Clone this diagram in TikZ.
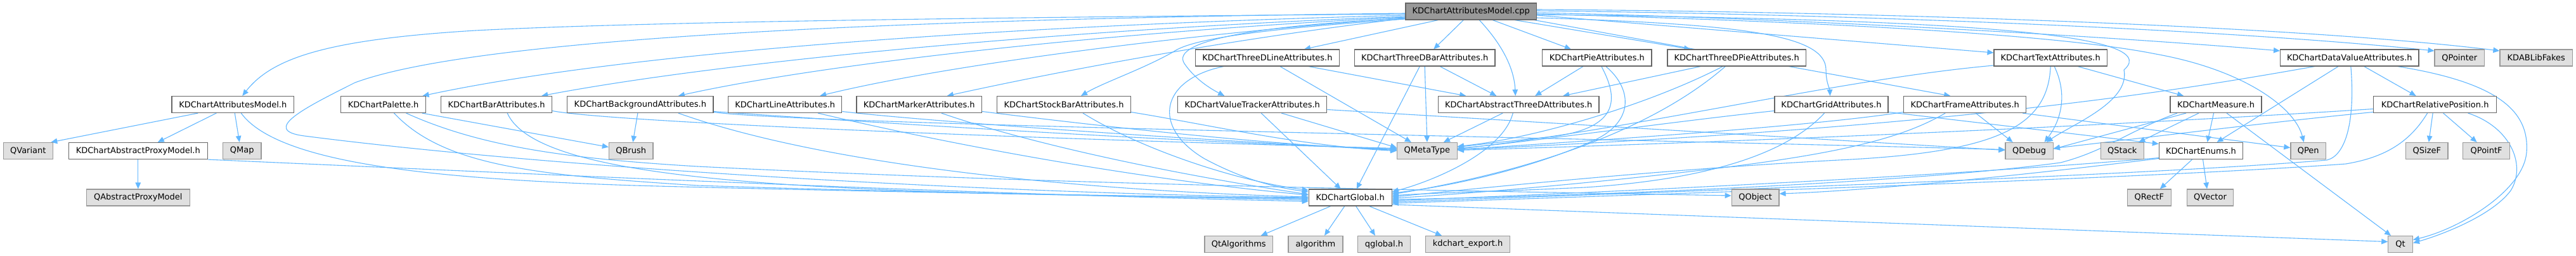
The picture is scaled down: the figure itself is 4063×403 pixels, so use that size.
\documentclass[tikz,border=0pt]{standalone}
\usepackage{fontspec}
\setmainfont{DejaVu Sans}
\usetikzlibrary{arrows.meta,backgrounds}
\definecolor{edgec}{HTML}{63B8FF}
\definecolor{nodeborder}{HTML}{666666}
\definecolor{grayfill}{HTML}{E0E0E0}
\definecolor{grayborder}{HTML}{999999}
\definecolor{rootfill}{HTML}{999999}
\begin{document}
\begin{tikzpicture}[x=1pt,y=-1pt,
  nb/.style={draw=nodeborder, fill=white, line width=1.2pt, minimum height=26pt, inner sep=0pt, font=\fontsize{13}{15}\selectfont},
  gb/.style={nb, draw=grayborder, fill=grayfill},
  rb/.style={nb, draw=nodeborder, fill=rootfill},
  e/.style={draw=edgec, line width=1.1pt, -{Triangle[length=10pt,width=8.5pt]}}]
\useasboundingbox (0,0) rectangle (4063,403);
% nodes
\node[rb, minimum width=206.5pt] (root) at (2320.25,18) {KDChartAttributesModel.cpp};
\node[nb, minimum width=192.6pt] (amh) at (367.3,164.5) {KDChartAttributesModel.h};
\node[nb, minimum width=134pt] (pal) at (604.6,164.5) {KDChartPalette.h};
\node[nb, minimum width=174.7pt] (bar) at (783.2,164.5) {KDChartBarAttributes.h};
\node[nb, minimum width=230.1pt] (bg) at (1009.9,164.5) {KDChartBackgroundAttributes.h};
\node[nb, minimum width=179.1pt] (line) at (1238.2,164.5) {KDChartLineAttributes.h};
\node[nb, minimum width=197.5pt] (marker) at (1449.8,164.5) {KDChartMarkerAttributes.h};
\node[nb, minimum width=210.7pt] (stock) at (1678,164.5) {KDChartStockBarAttributes.h};
\node[nb, minimum width=234.9pt] (vt) at (1975.2,164.5) {KDChartValueTrackerAttributes.h};
\node[nb, minimum width=226.9pt] (tdl) at (1999,91) {KDChartThreeDLineAttributes.h};
\node[nb, minimum width=221.7pt] (tdb) at (2247.2,91) {KDChartThreeDBarAttributes.h};
\node[nb, minimum width=172.2pt] (pie) at (2518.9,91) {KDChartPieAttributes.h};
\node[nb, minimum width=218.5pt] (tdp) at (2739.2,91) {KDChartThreeDPieAttributes.h};
\node[nb, minimum width=178.3pt] (text) at (3234.2,91) {KDChartTextAttributes.h};
\node[nb, minimum width=218.4pt] (dva) at (3705.8,91) {KDChartDataValueAttributes.h};
\node[gb, minimum width=78.6pt] (qpointer) at (3879.3,91) {QPointer};
\node[gb, minimum width=114.6pt] (kdab) at (4000.3,91) {KDABLibFakes};
\node[nb, minimum width=253.5pt] (atd) at (2395.2,164.5) {KDChartAbstractThreeDAttributes.h};
\node[nb, minimum width=179pt] (grid) at (2888.5,164.5) {KDChartGridAttributes.h};
\node[nb, minimum width=193.2pt] (frame) at (3099.2,164.5) {KDChartFrameAttributes.h};
\node[nb, minimum width=144pt] (measure) at (3495,164.5) {KDChartMeasure.h};
\node[nb, minimum width=193.9pt] (relpos) at (3840.6,164.5) {KDChartRelativePosition.h};
\node[gb, minimum width=78.4pt] (qvariant) at (44.3,237.5) {QVariant};
\node[nb, minimum width=218.8pt] (aproxy) at (217.8,237.5) {KDChartAbstractProxyModel.h};
\node[gb, minimum width=60.6pt] (qmap) at (381.7,237.5) {QMap};
\node[gb, minimum width=69.5pt] (qbrush) at (995.2,237.5) {QBrush};
\node[gb, minimum width=94.6pt] (qmetatype) at (2250.9,237.5) {QMetaType};
\node[gb, minimum width=75.3pt] (qdebug) at (3200.6,237.5) {QDebug};
\node[gb, minimum width=68.1pt] (qstack) at (3347.3,237.5) {QStack};
\node[nb, minimum width=132.3pt] (enums) at (3471.5,237.5) {KDChartEnums.h};
\node[gb, minimum width=55.6pt] (qpen) at (3640.7,237.5) {QPen};
\node[gb, minimum width=66.4pt] (qsizef) at (3827.8,237.5) {QSizeF};
\node[gb, minimum width=73.9pt] (qpointf) at (3921.6,237.5) {QPointF};
\node[gb, minimum width=162.6pt] (qapm) at (217.8,311) {QAbstractProxyModel};
\node[nb, minimum width=130.9pt] (global) at (2129.7,311) {KDChartGlobal.h};
\node[gb, minimum width=74.7pt] (qobject) at (2768.6,311) {QObject};
\node[gb, minimum width=68.9pt] (qrectf) at (3389.8,311) {QRectF};
\node[gb, minimum width=73.4pt] (qvector) at (3486,311) {QVector};
\node[gb, minimum width=107.7pt] (qtalg) at (1953.8,384.5) {QtAlgorithms};
\node[gb, minimum width=86.1pt] (algorithm) at (2075,384.5) {algorithm};
\node[gb, minimum width=82.9pt] (qglobal) at (2183,384.5) {qglobal.h};
\node[gb, minimum width=132.7pt] (kdexport) at (2315,384.5) {kdchart\_export.h};
\node[gb, minimum width=38.6pt] (qt) at (3786.1,384.5) {Qt};

\begin{scope}[on background layer]
\fill[white] (0,0) rectangle (4063,403);
% root edges
\draw[e] ([yshift=-4pt]root.west) .. controls (1500,28) and (1000,35) .. (750,48) .. controls (520,62) and (430,90) .. ([xshift=15pt]amh.north);
\draw[e] ([yshift=-6pt]root.west) .. controls (1600,40) and (1000,80) .. ([xshift=62pt]pal.north);
\draw[e] ([yshift=-8pt]root.west) .. controls (1700,45) and (1150,95) .. ([xshift=71pt]bar.north);
\draw[e] ([yshift=-9pt]root.west) .. controls (1750,50) and (1300,100) .. ([xshift=60pt]bg.north);
\draw[e] ([yshift=-10pt]root.west) .. controls (1850,55) and (1480,105) .. ([xshift=55pt]line.north);
\draw[e] ([yshift=-11pt]root.west) .. controls (1950,60) and (1680,110) .. ([xshift=44pt]marker.north);
\draw[e] ([yshift=-12pt]root.west) .. controls (2000,45) and (1880,60) .. (1850,82) .. controls (1800,110) and (1740,130) .. ([xshift=27pt]stock.north);
\draw[e] ([yshift=-11pt]root.west) .. controls (1980,40) and (1845,65) .. (1868,100) .. controls (1885,125) and (1910,140) .. ([xshift=-44pt]vt.north);
\draw[e] ([xshift=-52pt]root.south) -- ([xshift=58pt]tdl.north);
\draw[e] ([xshift=-12pt]root.south) -- ([xshift=14pt]tdb.north);
\draw[e] ([xshift=13pt]root.south) .. controls (2360,60) and (2388,100) .. ([xshift=-5pt]atd.north);
\draw[e] ([xshift=34pt]root.south) -- ([xshift=-41pt]pie.north);
\draw[e] ([xshift=69pt]root.south) -- ([xshift=-73pt]tdp.north);
\draw[e] ([yshift=-10pt]root.east) .. controls (2750,38) and (2880,55) .. (2880,110) .. controls (2880,130) and (2886,140) .. ([xshift=-2pt]grid.north);
\draw[e] ([xshift=100pt]root.south) -- ([xshift=-23pt]frame.north);
\draw[e] ([yshift=-6pt]root.east) -- ([yshift=8pt]text.west);
\draw[e] ([yshift=-2pt]root.east) .. controls (2800,28) and (3300,55) .. ([yshift=11pt]dva.west);
\draw[e] ([yshift=1pt]root.east) .. controls (2900,22) and (3500,45) .. ([yshift=11pt]qpointer.west);
\draw[e] ([yshift=3pt]root.east) .. controls (2900,18) and (3600,38) .. ([yshift=11pt]kdab.west);
\draw[e] ([yshift=-4pt]root.east) .. controls (2900,35) and (3250,55) .. (3400,85) .. controls (3540,110) and (3620,170) .. ([xshift=-7pt]qpen.north);
\draw[e] ([yshift=-5pt]root.east) .. controls (3050,30) and (3420,50) .. (3350,110) .. controls (3360,160) and (3270,195) .. ([xshift=27pt]qdebug.north);
\draw[e] ([yshift=-3pt]root.west) .. controls (1400,30) and (750,60) .. (560,130) .. controls (480,170) and (410,205) .. (480,214) .. controls (900,268) and (1600,305) .. (global.west);
% KDChartAttributesModel.h
\draw[e] ([xshift=-55pt]amh.south) -- ([xshift=36pt]qvariant.north);
\draw[e] ([xshift=-26pt]amh.south) -- ([xshift=31pt]aproxy.north);
\draw[e] ([xshift=3pt]amh.south) -- ([xshift=-4pt]qmap.north);
\draw[e] ([xshift=13pt]amh.south) .. controls (440,260) and (700,282) .. (1000,292) .. controls (1400,303) and (1800,308) .. ([yshift=-4pt]global.west);
% KDChartAbstractProxyModel.h
\draw[e] (aproxy.south) -- (qapm.north);
\draw[e] (aproxy.south east) .. controls (800,272) and (1500,305) .. ([yshift=-6pt]global.west);
% Palette
\draw[e] ([xshift=61pt]pal.south) -- ([yshift=6pt]qbrush.west);
\draw[e] ([xshift=17pt]pal.south) .. controls (700,262) and (850,276) .. (1100,292) .. controls (1500,305) and (1800,308) .. ([yshift=-2pt]global.west);
\draw[e] ([xshift=36pt]pal.south) .. controls (760,232) and (900,250) .. (1100,262) .. controls (1700,292) and (2300,300) .. ([yshift=3pt]qobject.west);
% Bar
\draw[e] ([yshift=-10pt]bar.east) .. controls (950,190) and (1500,215) .. ([yshift=4pt]qmetatype.west);
\draw[e] ([xshift=17pt]bar.south) .. controls (850,290) and (1300,305) .. ([yshift=-1pt]global.west);
% Background
\draw[e] ([xshift=-4pt]bg.south) -- ([xshift=3pt]qbrush.north);
\draw[e] ([xshift=60pt]bg.south) .. controls (1300,260) and (1700,300) .. ([yshift=1pt]global.west);
\draw[e] ([yshift=-11pt]bg.east) .. controls (1400,195) and (1900,225) .. ([yshift=3pt]qmetatype.west);
\draw[e] ([yshift=-12pt]bg.east) .. controls (1250,195) and (2400,215) .. ([yshift=2pt]qdebug.west);
% Line
\draw[e] ([yshift=-11pt]line.east) .. controls (1450,190) and (1900,222) .. ([yshift=2pt]qmetatype.west);
\draw[e] ([xshift=52pt]line.south) .. controls (1550,240) and (1850,288) .. ([yshift=4pt]global.west);
% Marker
\draw[e] ([yshift=-11pt]marker.east) .. controls (1650,188) and (1950,225) .. ([yshift=1pt]qmetatype.west);
\draw[e] ([xshift=35pt]marker.south) .. controls (1650,235) and (1900,282) .. ([yshift=5pt]global.west);
% StockBar
\draw[e] ([yshift=-12pt]stock.east) .. controls (1900,195) and (2050,230) .. (qmetatype.west);
\draw[e] ([xshift=30pt]stock.south) .. controls (1800,235) and (1950,285) .. ([yshift=-2pt]global.north west);
% ValueTracker
\draw[e] ([xshift=14pt]vt.south) -- ([xshift=-15pt]global.north);
\draw[e] ([xshift=46pt]vt.south) -- ([yshift=5pt]qmetatype.west);
\draw[e] ([yshift=-8pt]vt.east) -- ([yshift=1pt]qdebug.west);
% ThreeDLine
\draw[e] ([xshift=-69pt]tdl.south) .. controls (1830,125) and (1815,200) .. (1900,250) .. controls (1960,282) and (2010,295) .. ([yshift=9pt]global.west);
\draw[e] ([xshift=20pt]tdl.south) -- ([xshift=-25pt]qmetatype.north);
\draw[e] ([xshift=65pt]tdl.south) -- ([xshift=-83pt]atd.north);
% ThreeDBar
\draw[e] ([xshift=-8pt]tdb.south) -- ([xshift=10pt]global.north);
\draw[e] (tdb.south) -- (qmetatype.north);
\draw[e] ([xshift=24pt]tdb.south) -- ([xshift=-35pt]atd.north);
% AbstractThreeD
\draw[e] ([xshift=-25pt]atd.south) -- ([xshift=26pt]qmetatype.north);
\draw[e] ([xshift=-9pt]atd.south) .. controls (2370,240) and (2260,285) .. ([yshift=9pt]global.east);
% Pie
\draw[e] ([xshift=-22pt]pie.south) -- ([xshift=26pt]atd.north);
\draw[e] ([xshift=7pt]pie.south) .. controls (2550,150) and (2560,200) .. (2450,215) .. controls (2380,222) and (2330,228) .. ([yshift=6pt]qmetatype.east);
\draw[e] ([xshift=14pt]pie.south) .. controls (2575,140) and (2580,195) .. (2505,225) .. controls (2420,262) and (2300,292) .. ([yshift=7pt]global.east);
% ThreeDPie
\draw[e] ([xshift=-57pt]tdp.south) -- ([xshift=70pt]atd.north);
\draw[e] ([xshift=-22pt]tdp.south) .. controls (2600,165) and (2420,218) .. ([yshift=7pt]qmetatype.east);
\draw[e] ([xshift=-18pt]tdp.south) .. controls (2600,210) and (2400,272) .. ([yshift=5pt]global.east);
% Grid
\draw[e] ([yshift=-10pt]grid.west) .. controls (2650,190) and (2400,225) .. ([yshift=4pt]qmetatype.east);
\draw[e] ([xshift=-11pt]grid.south) .. controls (2820,240) and (2700,282) .. (2500,295) .. controls (2350,302) and (2250,304) .. ([yshift=3pt]global.east);
\draw[e] ([yshift=-12pt]grid.east) -- ([yshift=11pt]enums.west);
% Text
\draw[e] ([yshift=-12pt]text.west) .. controls (2900,125) and (2600,200) .. ([yshift=3pt]qmetatype.east);
\draw[e] (text.south) .. controls (3230,200) and (3150,240) .. (2900,252) .. controls (2600,268) and (2300,300) .. ([yshift=1pt]global.east);
\draw[e] ([xshift=6pt]text.south) .. controls (3262,150) and (3250,190) .. ([xshift=24pt]qdebug.north);
\draw[e] ([xshift=43pt]text.south) -- ([xshift=-51pt]measure.north);
% Frame
\draw[e] ([xshift=17pt]frame.south) -- ([xshift=-26pt]qdebug.north);
\draw[e] ([xshift=91pt]frame.south) -- ([yshift=5pt]qpen.west);
\draw[e] ([xshift=-31pt]frame.south) .. controls (3000,218) and (2900,242) .. (2700,266) .. controls (2500,290) and (2300,306) .. ([yshift=-1pt]global.east);
\draw[e] ([yshift=-12pt]frame.west) .. controls (2850,200) and (2500,222) .. ([yshift=2pt]qmetatype.east);
% Measure
\draw[e] ([xshift=-47pt]measure.south) -- ([yshift=3pt]qdebug.east);
\draw[e] ([xshift=-27pt]measure.south) -- ([xshift=26pt]qstack.north);
\draw[e] ([xshift=-3.5pt]measure.south) -- ([xshift=10pt]enums.north);
\draw[e] ([xshift=17pt]measure.south) -- ([xshift=-15pt]qt.north);
\draw[e] ([xshift=-61pt]measure.south) .. controls (3360,205) and (3320,238) .. (3250,256) .. controls (3000,290) and (2450,310) .. ([yshift=-3pt]global.east);
% Enums
\draw[e] ([xshift=-14pt]enums.south) -- ([xshift=17pt]qrectf.north);
\draw[e] ([xshift=3pt]enums.south) -- ([xshift=-5pt]qvector.north);
\draw[e] ([yshift=-11pt]enums.west) .. controls (3100,275) and (2600,300) .. ([yshift=-5pt]global.east);
\draw[e] ([yshift=-12pt]enums.west) .. controls (3200,275) and (2950,300) .. ([yshift=6pt]qobject.east);
% DataValue
\draw[e] ([xshift=-55pt]dva.south) .. controls (3450,140) and (3100,200) .. ([yshift=2pt]qmetatype.east);
\draw[e] ([xshift=-17.8pt]dva.south) -- ([xshift=25pt]enums.north);
\draw[e] ([xshift=2pt]dva.south) .. controls (3715,190) and (3700,245) .. (3670,252) .. controls (3400,275) and (2700,300) .. ([yshift=-7pt]global.east);
\draw[e] ([xshift=23pt]dva.south) -- ([xshift=-30pt]relpos.north);
\draw[e] ([xshift=76pt]dva.south) .. controls (3940,130) and (3990,175) .. (3985,240) .. controls (3980,300) and (3880,360) .. ([yshift=7pt]qt.east);
% RelativePosition
\draw[e] ([yshift=-7pt]relpos.west) .. controls (3300,200) and (2700,225) .. ([yshift=1pt]qmetatype.east);
\draw[e] ([yshift=-12pt]relpos.west) .. controls (3600,190) and (3400,215) .. ([yshift=4pt]qdebug.east);
\draw[e] ([xshift=-12pt]relpos.south) .. controls (3800,225) and (3760,248) .. (3700,258) .. controls (3400,280) and (2700,303) .. ([yshift=-9pt]global.east);
\draw[e] ([xshift=-3.5pt]relpos.south) -- ([xshift=3pt]qsizef.north);
\draw[e] ([xshift=13pt]relpos.south) -- ([xshift=-15pt]qpointf.north);
\draw[e] ([xshift=52pt]relpos.south) .. controls (3960,200) and (3985,260) .. (3960,300) .. controls (3930,340) and (3850,370) .. ([yshift=2pt]qt.east);
% Global
\draw[e] ([xshift=-31pt]global.south) -- ([xshift=35pt]qtalg.north);
\draw[e] ([xshift=-9pt]global.south) -- ([xshift=14pt]algorithm.north);
\draw[e] ([xshift=9pt]global.south) -- ([xshift=-14pt]qglobal.north);
\draw[e] ([xshift=30pt]global.south) -- ([xshift=-41pt]kdexport.north);
\draw[e] ([yshift=-11pt]global.east) -- ([yshift=4pt]qt.west);
\end{scope}
\end{tikzpicture}
\end{document}
